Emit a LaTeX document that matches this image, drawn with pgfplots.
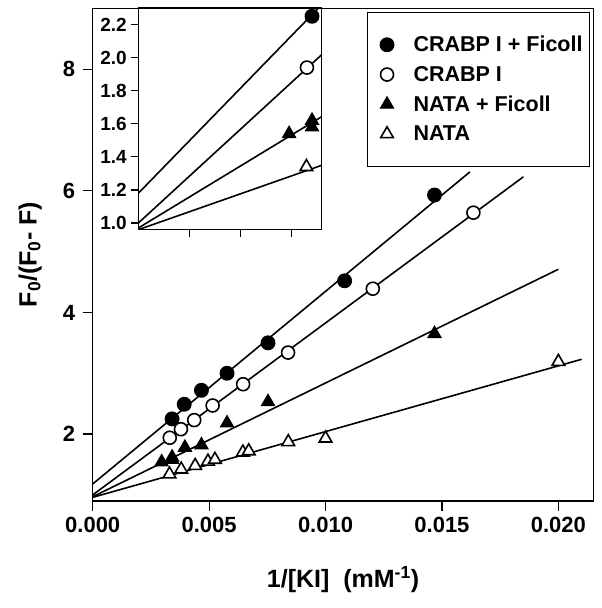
\documentclass[border=0pt]{standalone}
\usepackage{fontspec}
\setmainfont{Liberation Sans}
\usepackage{pgfplots}
\pgfplotsset{compat=1.18}
\pgfplotstableread{
x y
0.00341 2.25
0.00393 2.49
0.00467 2.72
0.00577 3.00
0.00753 3.50
0.01082 4.52
0.01468 5.93
}\crabpF
\pgfplotstableread{
x y
0.00331 1.94
0.00379 2.08
0.00436 2.23
0.00515 2.47
0.00646 2.82
0.00839 3.34
0.01203 4.39
0.01635 5.64
}\crabp
\pgfplotstableread{
x y
0.00296 1.54
0.00341 1.58
0.00341 1.62
0.00396 1.78
0.00467 1.82
0.00577 2.18
0.00753 2.53
0.01468 3.65
}\nataF
\pgfplotstableread{
x y
0.0033 1.34
0.0038 1.42
0.0044 1.48
0.00495 1.55
0.00525 1.58
0.00645 1.70
0.0067 1.72
0.0084 1.87
0.0100 1.93
0.0200 3.19
}\nata
\pgfplotsset{
  fitline/.style={black, line width=1.6bp, forget plot},
  fc/.style={only marks, mark=*, mark size=6.7bp, mark options={fill=black, draw=black, line width=1.5bp}},
  oc/.style={only marks, mark=*, mark size=6.5bp, mark options={fill=white, draw=black, line width=1.6bp}},
  ft/.style={only marks, mark=triangle*, mark size=7.6bp, mark options={fill=black, draw=black, line width=1bp}},
  ot/.style={only marks, mark=triangle*, mark size=7.3bp, mark options={fill=white, draw=black, line width=1.6bp}},
}
\begin{document}
\begin{tikzpicture}
\path[use as bounding box] (0,0) rectangle (602bp,608bp);
\begin{axis}[
  at={(92.7bp,107bp)}, anchor=south west, scale only axis,
  width=500.6bp, height=492.7bp,
  xmin=0, xmax=0.0215, ymin=0.9, ymax=9.0,
  axis line style={line width=1.2bp, black},
  xtick pos=bottom, ytick pos=left,
  tick align=outside, major tick length=10bp,
  tick style={line width=1.2bp, black},
  xtick={0,0.005,0.01,0.015,0.02},
  xticklabels={0.000,0.005,0.010,0.015,0.020},
  ytick={2,4,6,8}, yticklabels={2,4,6,8},
  scaled x ticks=false, scaled y ticks=false,
  ticklabel style={font=\fontsize{22bp}{26bp}\selectfont\bfseries},
  xticklabel style={yshift=-3bp},
  yticklabel style={xshift=-4bp},
  xlabel={1/[KI]\ \ (mM\textsuperscript{-1})},
  ylabel={F\textsubscript{0}/(F\textsubscript{0}- F)},
  label style={font=\fontsize{25bp}{29bp}\selectfont\bfseries},
  xlabel style={at={(axis description cs:0.5,-0.16)}, anchor=center},
  ylabel style={at={(axis description cs:-0.125,0.5)}, anchor=center},
  legend image code/.code={%
    \path[draw=none,fill=none] (0cm,0cm) (0.6cm+22bp,0cm);
    \draw[#1] plot coordinates {(0.3cm+6bp,0cm)};},
  legend style={at={(rel axis cs:0.548,0.993)}, anchor=north west,
    draw=black, line width=1bp, fill=white,
    font=\fontsize{21.5bp}{25bp}\selectfont\bfseries,
    inner xsep=5bp, inner ysep=22bp, row sep=9bp},
  legend cell align=left,
  clip=true,
]
\addplot[fitline] coordinates {(0,1.18) (0.0162,6.31)};
\addplot[fitline] coordinates {(0,1.00) (0.0185,6.23)};
\addplot[fitline] coordinates {(0,0.97) (0.0200,4.71)};
\addplot[fitline] coordinates {(0,0.96) (0.0210,3.23)};
\addplot[fc] table[x=x,y=y] {\crabpF};
\addlegendentry{CRABP I + Ficoll}
\addplot[oc] table[x=x,y=y] {\crabp};
\addlegendentry{CRABP I}
\addplot[ft] table[x=x,y=y] {\nataF};
\addlegendentry{NATA + Ficoll}
\addplot[ot] table[x=x,y=y] {\nata};
\addlegendentry{NATA}
\end{axis}
\begin{axis}[
  at={(138.3bp,378.3bp)}, anchor=south west, scale only axis,
  width=183.4bp, height=221.7bp,
  xmin=0, xmax=0.0036, ymin=0.96, ymax=2.30,
  axis background/.style={fill=white},
  axis line style={line width=1.2bp, black},
  xtick pos=bottom, ytick pos=left,
  tick align=outside, major tick length=7bp,
  tick style={line width=1.2bp, black},
  xtick={0.001,0.002,0.003}, xticklabels={},
  ytick={1.0,1.2,1.4,1.6,1.8,2.0,2.2},
  yticklabels={1.0,1.2,1.4,1.6,1.8,2.0,2.2},
  scaled x ticks=false, scaled y ticks=false,
  ticklabel style={font=\fontsize{19bp}{22bp}\selectfont\bfseries},
  yticklabel style={xshift=-1bp},
  clip=true,
]
\addplot[fitline] coordinates {(0,1.18) (0.0162,6.31)};
\addplot[fitline] coordinates {(0,1.00) (0.0185,6.23)};
\addplot[fitline] coordinates {(0,0.97) (0.0200,4.71)};
\addplot[fitline] coordinates {(0,0.96) (0.0210,3.23)};
\addplot[fc] table[x=x,y=y] {\crabpF};
\addplot[oc] table[x=x,y=y] {\crabp};
\addplot[ft] table[x=x,y=y] {\nataF};
\addplot[ot] table[x=x,y=y] {\nata};
\end{axis}
\end{tikzpicture}
\end{document}
